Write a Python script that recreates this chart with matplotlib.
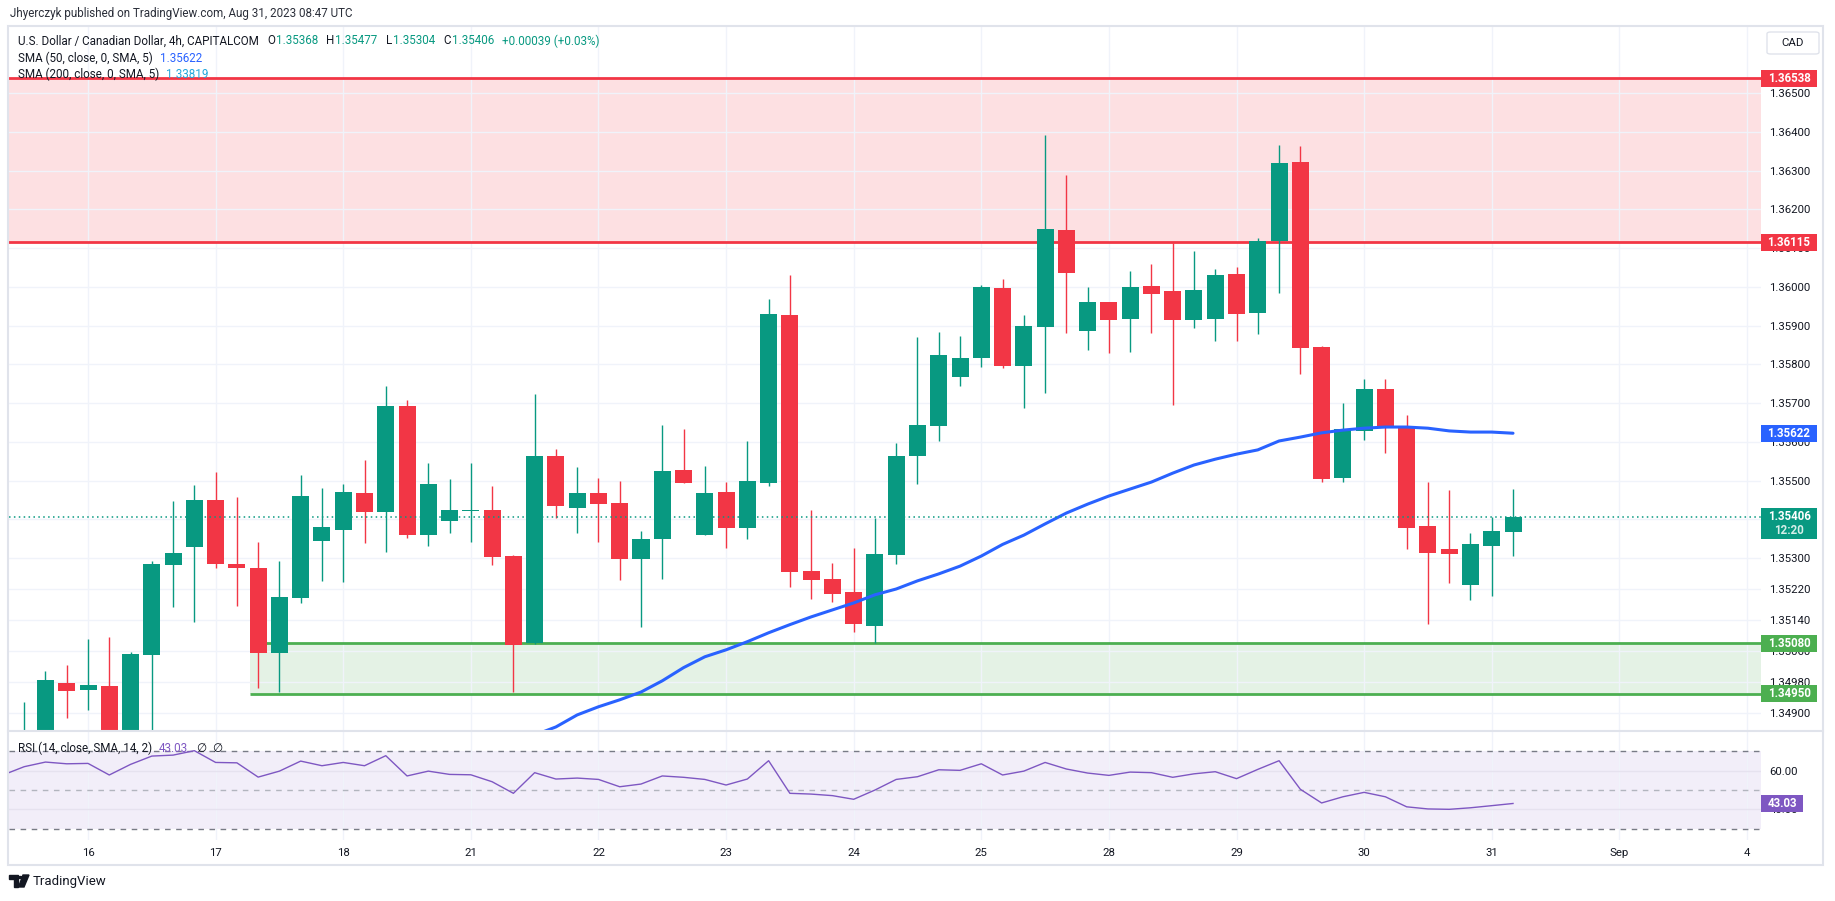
import numpy as np
import matplotlib.pyplot as plt
from matplotlib.patches import Rectangle, Polygon, Circle, FancyBboxPatch

plt.rcParams['font.family'] = ['Roboto', 'DejaVu Sans']

# ----------------------------
# Data: USDCAD 4h bars, Aug 15 - Aug 31 2023
# ----------------------------
opens = [
    1.34800, 1.34800, 1.34977, 1.34959, 1.34970, 1.34830, 1.35050, 1.35282, 1.35328, 1.35450,
    1.35284, 1.35274, 1.35055, 1.35197, 1.35344, 1.35372, 1.35467, 1.35419, 1.35692, 1.35359,
    1.35396, 1.35421, 1.35424, 1.35305, 1.35081, 1.35564, 1.35429, 1.35467, 1.35442, 1.35298,
    1.35349, 1.35527, 1.35359, 1.35470, 1.35377, 1.35494, 1.35927, 1.35266, 1.35246, 1.35212,
    1.35125, 1.35307, 1.35564, 1.35641, 1.35767, 1.35815, 1.35997, 1.35796, 1.35896, 1.36147,
    1.35885, 1.35961, 1.35917, 1.36002, 1.35989, 1.35914, 1.35917, 1.36033, 1.35932, 1.36118,
    1.36322, 1.35844, 1.35506, 1.35628, 1.35736, 1.35635, 1.35383, 1.35322, 1.35230, 1.35331,
    1.35368]
highs = [
    1.34928, 1.35008, 1.35024, 1.35091, 1.35095, 1.35058, 1.35292, 1.35447, 1.35488, 1.35522,
    1.35457, 1.35341, 1.35292, 1.35514, 1.35481, 1.35491, 1.35553, 1.35744, 1.35708, 1.35545,
    1.35504, 1.35545, 1.35486, 1.35308, 1.35723, 1.35581, 1.35535, 1.35506, 1.35498, 1.35370,
    1.35643, 1.35633, 1.35538, 1.35496, 1.35602, 1.35968, 1.36030, 1.35424, 1.35287, 1.35326,
    1.35403, 1.35597, 1.35870, 1.35883, 1.35873, 1.36005, 1.36020, 1.35927, 1.36392, 1.36288,
    1.35999, 1.35961, 1.36041, 1.36059, 1.36113, 1.36092, 1.36046, 1.36051, 1.36126, 1.36366,
    1.36363, 1.35847, 1.35700, 1.35762, 1.35762, 1.35669, 1.35496, 1.35475, 1.35365, 1.35406,
    1.35477]
lows = [
    1.34760, 1.34780, 1.34887, 1.34908, 1.34790, 1.34800, 1.34830, 1.35174, 1.35135, 1.35274,
    1.35176, 1.34965, 1.34954, 1.35184, 1.35241, 1.35238, 1.35339, 1.35316, 1.35352, 1.35331,
    1.35365, 1.35341, 1.35282, 1.34954, 1.35078, 1.35403, 1.35365, 1.35341, 1.35243, 1.35122,
    1.35246, 1.35494, 1.35359, 1.35326, 1.35349, 1.35486, 1.35226, 1.35194, 1.35187, 1.35109,
    1.35081, 1.35284, 1.35491, 1.35602, 1.35744, 1.35793, 1.35790, 1.35687, 1.35726, 1.35881,
    1.35837, 1.35829, 1.35832, 1.35881, 1.35695, 1.35894, 1.35860, 1.35860, 1.35878, 1.35984,
    1.35775, 1.35496, 1.35496, 1.35605, 1.35571, 1.35322, 1.35130, 1.35235, 1.35192, 1.35202,
    1.35304]
closes = [
    1.34845, 1.34985, 1.34957, 1.34972, 1.34820, 1.35053, 1.35284, 1.35313, 1.35450, 1.35284,
    1.35274, 1.35055, 1.35199, 1.35460, 1.35380, 1.35470, 1.35419, 1.35692, 1.35359, 1.35491,
    1.35424, 1.35424, 1.35303, 1.35076, 1.35564, 1.35434, 1.35467, 1.35439, 1.35298, 1.35349,
    1.35525, 1.35494, 1.35467, 1.35377, 1.35499, 1.35930, 1.35264, 1.35243, 1.35207, 1.35130,
    1.35310, 1.35564, 1.35643, 1.35824, 1.35816, 1.35999, 1.35796, 1.35899, 1.36149, 1.36035,
    1.35961, 1.35914, 1.35999, 1.35981, 1.35914, 1.35992, 1.36030, 1.35930, 1.36118, 1.36319,
    1.35842, 1.35504, 1.35633, 1.35736, 1.35635, 1.35377, 1.35313, 1.35310, 1.35336, 1.35370,
    1.35406]
change_text = "+0.00039 (+0.03%)"

# SMA 50, visible from bar 23 onwards
sma50_start = 23
sma50 = [
    1.34817, 1.34843, 1.34864, 1.34895, 1.34916, 1.34934, 1.34954, 1.34983, 1.35017, 1.35045,
    1.35063, 1.35084, 1.35107, 1.35128, 1.35148, 1.35166, 1.35184, 1.35205, 1.35220, 1.35241,
    1.35259, 1.35279, 1.35305, 1.35335, 1.35359, 1.35388, 1.35416, 1.35439, 1.35460, 1.35478,
    1.35496, 1.35519, 1.35540, 1.35555, 1.35568, 1.35579, 1.35602, 1.35612, 1.35623, 1.35630,
    1.35635, 1.35638, 1.35638, 1.35635, 1.35628, 1.35625, 1.35625, 1.35622]
sma200_last = 1.33819

# RSI 14, starts one bar before the first full candle
rsi_start = -1
rsi = [
    57.8, 62.1, 64.5, 63.6, 63.8, 57.8, 63.3, 67.6, 68.1, 70.4,
    64.3, 64.1, 56.7, 59.8, 65.0, 62.6, 64.3, 62.6, 67.8, 57.3,
    59.8, 58.1, 57.9, 54.3, 48.3, 59.0, 55.7, 56.2, 55.5, 51.7,
    53.1, 57.3, 56.6, 55.5, 52.6, 55.7, 65.2, 48.3, 47.9, 47.1,
    45.2, 50.0, 55.5, 56.9, 60.5, 60.2, 63.6, 57.8, 59.8, 64.3,
    60.9, 58.8, 57.6, 59.3, 59.0, 56.6, 58.4, 59.5, 55.9, 60.7,
    65.2, 50.4, 43.3, 46.5, 48.8, 46.5, 41.3, 40.2, 40.0, 40.8,
    41.9, 43.03]

day_labels = ["16", "17", "18", "21", "22", "23", "24", "25", "28", "29", "30", "31", "Sep", "4"]
first_day_bar = 3
bars_per_day = 6

resistance = (1.36115, 1.36538)
support = (1.34950, 1.35080)
support_start_bar = 10.6
last_price = 1.35406

price_ticks = [1.3490, 1.3498, 1.3506, 1.3514, 1.3522, 1.3530, 1.3540, 1.3550, 1.3560,
               1.3570, 1.3580, 1.3590, 1.3600, 1.3610, 1.3620, 1.3630, 1.3640, 1.3650]

# ----------------------------
# Colours
# ----------------------------
UP = "#089981"
DOWN = "#f23645"
TXT = "#131722"
GRID = "#f0f3fa"
BORDER = "#e0e3eb"

# ----------------------------
# Figure / panes (pixel layout)
# ----------------------------
W, H = 1835, 901
fig = plt.figure(figsize=(W / 100, H / 100), dpi=100)


def px_box(x0, y0, x1, y1):
    return [x0 / W, 1 - y1 / H, (x1 - x0) / W, (y1 - y0) / H]


ax = fig.add_axes(px_box(9, 26, 1761, 731))
ax_rsi = fig.add_axes(px_box(9, 731, 1761, 840), sharex=ax)

x = np.arange(len(opens))
o = np.array(opens)
c = np.array(closes)
colors = [UP if cc >= oo else DOWN for oo, cc in zip(o, c)]

# zones
ax.axhspan(resistance[0], resistance[1], color="#fde0e2", lw=0, zorder=0.2)
for lvl in resistance:
    ax.axhline(lvl, color=DOWN, lw=2.0, zorder=1)
x_end = 81.66
ax.fill_between([support_start_bar, x_end], support[0], support[1], color="#e4f2e5", lw=0, zorder=0.2)
ax.hlines(support, support_start_bar, x_end, color="#4caf50", lw=2.0, zorder=1)

# candles
ax.vlines(x, lows, highs, color=colors, lw=1.0, zorder=3)
body_lo = np.minimum(o, c)
body_h = np.maximum(np.abs(c - o), 0.00003)
ax.bar(x, body_h, bottom=body_lo, width=0.8, color=colors, lw=0, zorder=4)

# SMA 50
ax.plot(np.arange(len(sma50)) + sma50_start, sma50, color="#2962ff", lw=2.2, zorder=5,
        solid_capstyle="round")

# last price dotted line
ax.axhline(last_price, color=UP, lw=1.1, ls=(0, (1, 2.2)), zorder=6)

ax.set_xlim(-0.715, x_end)
ax.set_ylim(1.348535, 1.36673)
ax.set_yticks(price_ticks)
ax.set_yticklabels([f"{t:.5f}" for t in price_ticks])
ax.yaxis.tick_right()
ax.tick_params(axis="y", length=0, pad=6, labelsize=8.2, labelcolor=TXT)
ax.tick_params(axis="x", length=0, labelbottom=False)
ax.set_axisbelow(True)
ax.grid(True, color=GRID, lw=1)
for s in ax.spines.values():
    s.set_visible(False)

# ----------------------------
# RSI pane
# ----------------------------
ax_rsi.axhspan(30, 70, color="#f2eef9", lw=0, zorder=0.2)
ax_rsi.axhline(70, color="#787b86", lw=1, ls=(0, (4, 4)), zorder=1)
ax_rsi.axhline(30, color="#787b86", lw=1, ls=(0, (4, 4)), zorder=1)
ax_rsi.axhline(50, color="#b2b5be", lw=1, ls=(0, (4, 4)), zorder=1)
ax_rsi.plot(np.arange(len(rsi)) + rsi_start, rsi, color="#7e57c2", lw=1.0, zorder=3)
ax_rsi.set_ylim(24.1, 80.6)
ax_rsi.set_yticks([40, 60])
ax_rsi.set_yticklabels(["40.00", "60.00"])
ax_rsi.yaxis.tick_right()
ax_rsi.tick_params(axis="y", length=0, pad=6, labelsize=8.2, labelcolor=TXT)
tick_pos = first_day_bar + bars_per_day * np.arange(len(day_labels))
ax_rsi.set_xticks(tick_pos)
ax_rsi.set_xticklabels(day_labels)
ax_rsi.tick_params(axis="x", length=0, pad=6, labelsize=8.2, labelcolor=TXT)
ax.set_xticks(tick_pos)
ax_rsi.set_axisbelow(True)
ax_rsi.grid(True, color=GRID, lw=1)
ax_rsi.yaxis.grid(True, color="#e6e2ef", lw=1)
for s in ax_rsi.spines.values():
    s.set_visible(False)


# ----------------------------
# Price tags on the right axis
# ----------------------------
def fig_y(a, v):
    return fig.transFigure.inverted().transform(a.transData.transform((0, v)))[1]


def tag(a, v, text, color, x1=1817, top=8.5, bottom=8.5, sub=None):
    yc = fig_y(a, v)
    r = Rectangle((1761 / W, yc - bottom / H), (x1 - 1761) / W, (top + bottom) / H,
                  transform=fig.transFigure, color=color, lw=0, zorder=10)
    fig.patches.append(r)
    fig.text((1761 + x1) / 2 / W, yc, text, color="white", fontsize=8.3, fontweight="bold",
             ha="center", va="center", zorder=11)
    if sub:
        fig.text((1761 + x1) / 2 / W, yc - 14 / H, sub, color="#d6efe9", fontsize=8.3,
                 fontweight="bold", ha="center", va="center", zorder=11)


tag(ax, resistance[1], f"{resistance[1]:.5f}", DOWN)
tag(ax, resistance[0], f"{resistance[0]:.5f}", DOWN)
tag(ax, sma50[-1], f"{sma50[-1]:.5f}", "#2962ff")
tag(ax, last_price, f"{last_price:.5f}", UP, top=9, bottom=22, sub="12:20")
tag(ax, support[1], f"{support[1]:.5f}", "#4caf50")
tag(ax, support[0], f"{support[0]:.5f}", "#4caf50")
tag(ax_rsi, rsi[-1], f"{rsi[-1]:.2f}", "#7e57c2", x1=1803)

# ----------------------------
# Frame and separators
# ----------------------------
fig.patches.append(Rectangle((8 / W, 1 - 865 / H), (1823 - 8) / W, (865 - 26) / H,
                             transform=fig.transFigure, fill=False, ec=BORDER, lw=1.5, zorder=12))
fig.add_artist(plt.Line2D([8 / W, 1823 / W], [1 - 731 / H] * 2, color=BORDER, lw=1.5, zorder=12))

# CAD button
fig.patches.append(FancyBboxPatch((1767 / W, 1 - 54 / H), 52 / W, 22 / H,
                                  boxstyle="round,pad=0,rounding_size=0.002",
                                  transform=fig.transFigure, fill=False, ec=BORDER, lw=1, zorder=12))
fig.text(1793 / W, 1 - 43 / H, "CAD", fontsize=8.2, color=TXT, ha="center", va="center")

# ----------------------------
# Header texts
# ----------------------------
renderer = fig.canvas.get_renderer()


def t(xp, yp, s, color=TXT, **kw):
    return fig.text(xp / W, 1 - yp / H, s, color=color, fontsize=8.4, va="center", ha="left", **kw)


def row(xp, yp, parts):
    # lay text pieces one after another, parts = (text, colour, gap_after_px)
    for s, col, gap in parts:
        txt = t(xp, yp, s, color=col)
        xp += txt.get_window_extent(renderer).width + gap


t(10, 14, "Jhyerczyk published on TradingView.com, Aug 31, 2023 08:47 UTC", color="#2a2e39")
row(18, 41, [("U.S. Dollar / Canadian Dollar, 4h, CAPITALCOM", TXT, 8),
             ("O", TXT, 1), (f"{opens[-1]:.5f}", UP, 8),
             ("H", TXT, 1), (f"{highs[-1]:.5f}", UP, 8),
             ("L", TXT, 1), (f"{lows[-1]:.5f}", UP, 8),
             ("C", TXT, 1), (f"{closes[-1]:.5f}", UP, 8),
             (change_text, UP, 0)])
row(18, 58, [("SMA (50, close, 0, SMA, 5)", TXT, 7), (f"{sma50[-1]:.5f}", "#2962ff", 0)])
row(18, 74, [("SMA (200, close, 0, SMA, 5)", TXT, 7), (f"{sma200_last:.5f}", "#22a7dc", 0)])
row(18, 748, [("RSI (14, close, SMA, 14, 2)", TXT, 7), (f"{rsi[-1]:.2f}", "#7e57c2", 8),
              ("\u2205", TXT, 6), ("\u2205", TXT, 0)])

# TradingView logo
def pxy(xp, yp):
    return (xp / W, 1 - yp / H)


logo = [Polygon([pxy(9, 875), pxy(18, 875), pxy(18, 887), pxy(14, 887), pxy(14, 879), pxy(9, 879)],
                closed=True, transform=fig.transFigure, color=TXT),
        Circle(pxy(20.5, 877.5), 2.0 / W, transform=fig.transFigure, color=TXT),
        Polygon([pxy(23, 875), pxy(29, 875), pxy(24, 887), pxy(18.5, 887)],
                closed=True, transform=fig.transFigure, color=TXT)]
for p in logo:
    fig.patches.append(p)
fig.text(33 / W, 1 - 881 / H, "TradingView", fontsize=9.5, color=TXT, va="center", ha="left")

fig.savefig("out.png", dpi=100)
